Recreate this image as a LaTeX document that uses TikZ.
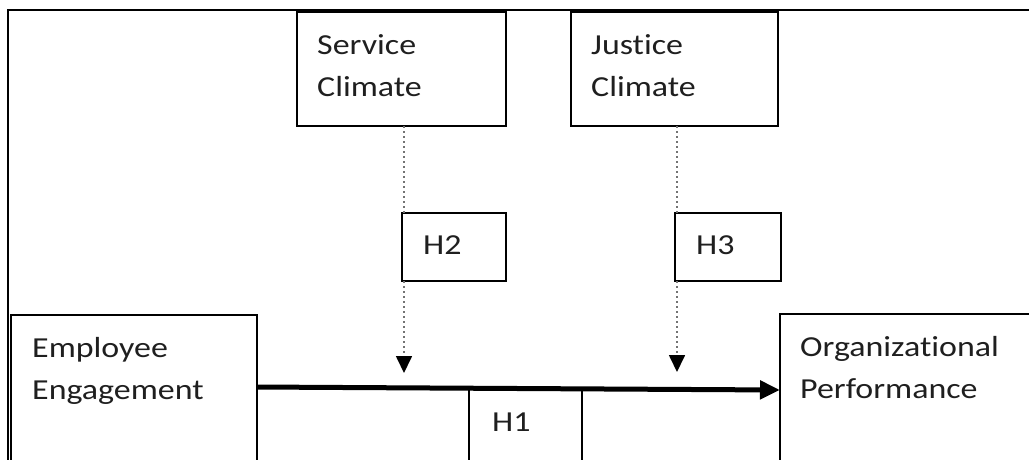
\documentclass[tikz,border=0pt]{standalone}
\usepackage{fontspec}
\setmainfont[FakeStretch=1.17,Ligatures=NoCommon]{Carlito}
\usetikzlibrary{arrows.meta, calc}
\tikzset{every var node/.style={draw,line width=1.4pt,anchor=north west,inner sep=0pt,outer sep=0pt}}
\tikzset{var labels/.style={anchor=north west,inner sep=0pt,align=left,font=\fontsize{29}{42}\selectfont,text=black!88}}
\tikzset{moderator/.style={draw=black!55,line width=1.7pt,dash pattern=on 2pt off 3pt,-{Triangle[width=16pt,length=17pt,color=black]}}}
\tikzset{effect/.style={line width=5pt,-{Triangle[width=18pt,length=20pt]}}}

\begin{document}
\begin{tikzpicture}[x=1pt,y=-1pt]
    \useasboundingbox (0,0) rectangle (1029,459);
    \clip (0,0) rectangle (1029,459);
    \draw[line width=1.4pt] (8,10) rectangle (1060,490);

    % climates
    \node[every var node,minimum width=209pt,minimum height=114pt] (SC) at (297,12) {};
    \node[var labels] (SCt) at ($(SC.north west)+(20,22)$) {Service\\Climate};
    \node[every var node,minimum width=207pt,minimum height=114pt] (JC) at (571,12) {};
    \node[var labels] (JCt) at ($(JC.north west)+(20,22)$) {Justice\\Climate};

    % hypotheses
    \node[every var node,minimum width=104pt,minimum height=68pt] (H2) at (402,213) {};
    \node[var labels] (H2t) at ($(H2.north west)+(21,22)$) {H2};
    \node[every var node,minimum width=106pt,minimum height=68pt] (H3) at (675,213) {};
    \node[var labels] (H3t) at ($(H3.north west)+(21,22)$) {H3};
    \node[every var node,minimum width=113pt,minimum height=120pt] (H1) at (469,388) {};
    \node[var labels] (H1t) at ($(H1.north west)+(23,25)$) {H1};

    % constructs
    \node[every var node,minimum width=246pt,minimum height=200pt] (EE) at (11,315) {};
    \node[var labels] (EEt) at ($(EE.north west)+(21,22)$) {Employee\\Engagement};
    \node[every var node,minimum width=300pt,minimum height=200pt] (OP) at (780,314) {};
    \node[var labels] (OPt) at ($(OP.north west)+(20,22)$) {Organizational\\Performance};

    \coordinate (M2) at (404,373);
    \coordinate (M3) at (677,372);
    \draw[moderator,-] (SC.south -| M2) -- (H2.north -| M2);
    \draw[moderator] (H2.south -| M2) -- (M2);
    \draw[moderator,-] (JC.south -| M3) -- (H3.north -| M3);
    \draw[moderator] (H3.south -| M3) -- (M3);

    \draw[effect] ($(EE.north east)+(0,72)$) -- ($(OP.north west)+(0,76)$);
\end{tikzpicture}
\end{document}
